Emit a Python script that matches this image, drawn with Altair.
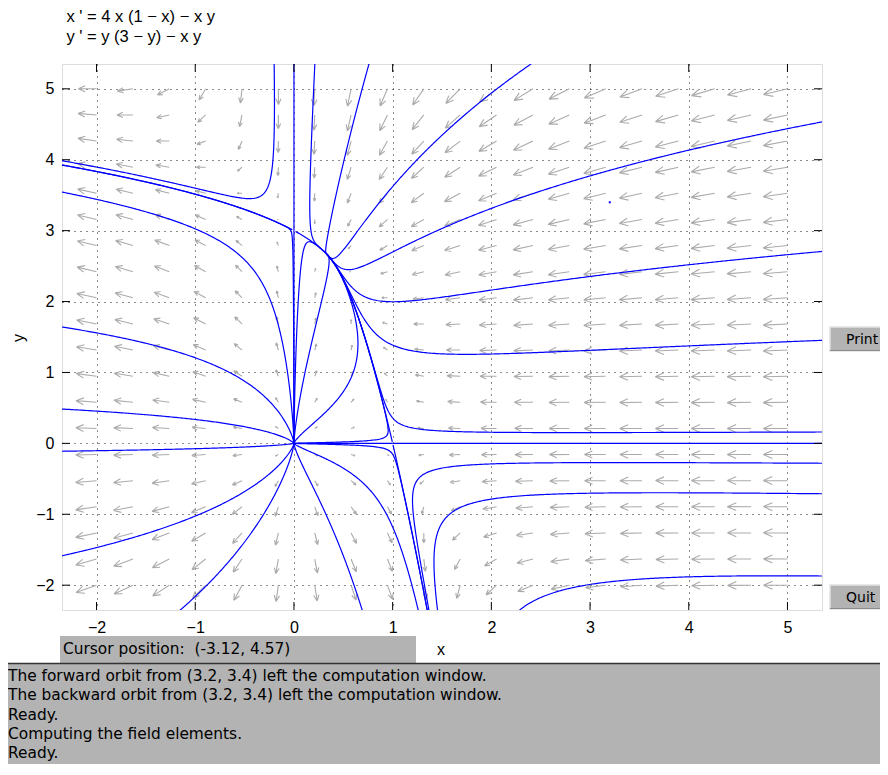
import math
import altair as alt
import pandas as pd

alt.data_transformers.disable_max_rows()

# ------------------------------------------------------------------ content
EQUATION_LINES = ["x ' = 4 x (1 − x) − x y", "y ' = y (3 − y) − x y"]
# x' = A x (B - x) - x y ,  y' = y (C - y) - x y
A_COEF, B_COEF, C_COEF = 4.0, 1.0, 3.0
EQUILIBRIA = [(0.0, 0.0), (1.0, 0.0), (0.0, 3.0), (1.0 / 3.0, 8.0 / 3.0)]

X_DOMAIN = [-2.35, 5.35]
Y_DOMAIN = [-2.35, 5.35]
X_TICKS = [-2, -1, 0, 1, 2, 3, 4, 5]
Y_TICKS = [-2, -1, 0, 1, 2, 3, 4, 5]

# direction field: 20 x 20 points over the window [-2, 5] x [-2, 5]
FIELD_MIN, FIELD_MAX, FIELD_N = -2.0, 5.0, 20

# initial points of the solution curves, both directions
SEEDS_BOTH = [
    (-2.30, 3.53), (-2.30, 1.63), (-2.30, 0.48), (-2.30, -0.11), (-2.30, -1.57),
    (-0.20, 5.30), (0.21, 5.30), (0.75, 5.30), (2.35, 5.30),
    (5.30, 4.52), (5.30, 2.70), (5.30, 1.45), (5.30, 0.16),
    (5.30, -0.28), (5.30, -0.71), (5.30, -1.87),
    (-1.11, -2.30), (0.68, -2.30), (1.25, -2.30),
    (-0.002, 1.18), (0.012, 0.90), (0.14, 1.18), (0.64, 1.60),
    (0.50, 0.02), (0.50, -0.02),
    (0.0, 5.30), (0.0, 1.50), (3.0, 0.0), (0.5, 0.0),
]
# separatrices leaving the saddles, forward only
SEEDS_FORWARD = [
    (0.016, 2.988), (-0.016, 3.012),
    (0.9967, 0.0197), (1.0033, -0.0197),
]
MARKED_POINT = [(3.2, 3.4)]

CURSOR_TEXT = "Cursor position:\u00a0 (-3.12, 4.57)"
MESSAGES = [
    "The forward orbit from (3.2, 3.4) left the computation window.",
    "The backward orbit from (3.2, 3.4) left the computation window.",
    "Ready.",
    "Computing the field elements.",
    "Ready.",
]
BUTTONS = ["Print", "Quit"]

# ------------------------------------------------------------------ styling
W, H = 760, 546
BLUE = "#0000ff"
ARROW_GRAY = "#ababab"
PANEL_GRAY = "#b3b3b3"
PLOT_FONT = "Liberation Sans"
GUI_FONT = "DejaVu Sans"
ARROW_PATH = "M0,0L2,0M2,0L1.25,-0.33M2,0L1.25,0.33"
PX_X = W / (X_DOMAIN[1] - X_DOMAIN[0])
PX_Y = H / (Y_DOMAIN[1] - Y_DOMAIN[0])


def field(x, y):
    return (A_COEF * x * (B_COEF - x) - x * y, y * (C_COEF - y) - x * y)


def unit(x, y, sgn):
    u, v = field(x, y)
    n = math.hypot(u, v)
    if n < 1e-12:
        return 0.0, 0.0
    return sgn * u / n, sgn * v / n


LX0, LX1 = X_DOMAIN[0] - 0.05, X_DOMAIN[1] + 0.05
LY0, LY1 = Y_DOMAIN[0] - 0.05, Y_DOMAIN[1] + 0.05


def trace(x, y, sgn, ds=0.008, nmax=6000):
    pts = []
    for k in range(nmax):
        k1 = unit(x, y, sgn)
        k2 = unit(x + 0.5 * ds * k1[0], y + 0.5 * ds * k1[1], sgn)
        k3 = unit(x + 0.5 * ds * k2[0], y + 0.5 * ds * k2[1], sgn)
        k4 = unit(x + ds * k3[0], y + ds * k3[1], sgn)
        x += ds * (k1[0] + 2 * k2[0] + 2 * k3[0] + k4[0]) / 6
        y += ds * (k1[1] + 2 * k2[1] + 2 * k3[1] + k4[1]) / 6
        pts.append((x, y))
        if not (LX0 < x < LX1 and LY0 < y < LY1):
            break
        if k > 5:
            hit = None
            for ex, ey in EQUILIBRIA:
                if math.hypot(x - ex, y - ey) < 1.5 * ds:
                    hit = (ex, ey)
                    break
            if hit:
                pts.append(hit)
                break
    return pts


rows = []
cid = 0
for (sx, sy), both in [(s, True) for s in SEEDS_BOTH] + [(s, False) for s in SEEDS_FORWARD]:
    fwd = trace(sx, sy, 1.0)
    bwd = trace(sx, sy, -1.0) if both else []
    line = list(reversed(bwd)) + [(sx, sy)] + fwd
    keep = line[::2]
    if keep[-1] != line[-1]:
        keep.append(line[-1])
    for k, (px, py) in enumerate(keep):
        rows.append({"id": cid, "k": k, "x": px, "y": py})
    cid += 1
traj_df = pd.DataFrame(rows)

# direction field arrows (tail at grid point, length grows with speed)
arrows = []
for i in range(FIELD_N):
    gx = FIELD_MIN + (FIELD_MAX - FIELD_MIN) * i / (FIELD_N - 1)
    for j in range(FIELD_N):
        gy = FIELD_MIN + (FIELD_MAX - FIELD_MIN) * j / (FIELD_N - 1)
        u, v = field(gx, gy)
        m = math.hypot(u, v)
        if m < 1e-9:
            continue
        L = 26.0 * m / (m + 6.0)
        ang = math.degrees(math.atan2(-v * PX_Y, u * PX_X)) % 360
        arrows.append({"x": gx, "y": gy, "s": L * L, "a": ang})
arrow_df = pd.DataFrame(arrows)

XS = alt.Scale(domain=X_DOMAIN, nice=False, zero=False)
YS = alt.Scale(domain=Y_DOMAIN, nice=False, zero=False)

axis_common = dict(
    grid=True, gridColor="#000000", gridDash=[1, 5], gridWidth=1, gridOpacity=0.9,
    ticks=False, domain=False, labelFont=PLOT_FONT, labelFontSize=16,
    labelColor="black", title=None, format="d",
)
XAX = alt.Axis(values=X_TICKS, labelPadding=9, **axis_common)
YAX = alt.Axis(values=Y_TICKS, labelPadding=8, **axis_common)


def X(field_name):
    return alt.X(field_name, type="quantitative", scale=XS, axis=XAX)


def Y(field_name):
    return alt.Y(field_name, type="quantitative", scale=YS, axis=YAX)


arrow_layer = alt.Chart(arrow_df).mark_point(
    shape=ARROW_PATH, filled=False, color=ARROW_GRAY, strokeWidth=1.1, opacity=1
).encode(
    x=X("x"), y=Y("y"),
    size=alt.Size("s:Q", scale=None, legend=None),
    angle=alt.Angle("a:Q", scale=None),
)

traj_layer = alt.Chart(traj_df).mark_line(color=BLUE, strokeWidth=1.2, clip=True).encode(
    x=X("x"), y=Y("y"), detail="id:N", order="k:Q",
)

dot_layer = alt.Chart(pd.DataFrame(MARKED_POINT, columns=["x", "y"])).mark_square(
    color=BLUE, size=4, opacity=1
).encode(x=X("x"), y=Y("y"))

xt = pd.DataFrame({"v": X_TICKS})
yt = pd.DataFrame({"v": Y_TICKS})
TL = 8
tick_layers = [
    alt.Chart(xt).mark_rule(color="black", strokeWidth=1).encode(
        x=X("v"), y=alt.value(H), y2=alt.value(H - TL)),
    alt.Chart(xt).mark_rule(color="black", strokeWidth=1).encode(
        x=X("v"), y=alt.value(0), y2=alt.value(TL)),
    alt.Chart(yt).mark_rule(color="black", strokeWidth=1).encode(
        y=Y("v"), x=alt.value(0), x2=alt.value(TL)),
    alt.Chart(yt).mark_rule(color="black", strokeWidth=1).encode(
        y=Y("v"), x=alt.value(W), x2=alt.value(W - TL)),
]


def text_mark(txt, x, y, size, font, align="left", baseline="alphabetic", angle=0):
    kw = dict(align=align, baseline=baseline, fontSize=size, font=font, color="black")
    if angle:
        kw["angle"] = angle
    return alt.Chart(pd.DataFrame({"t": [txt]})).mark_text(**kw).encode(
        x=alt.value(x), y=alt.value(y), text="t:N")


def rect_mark(x, x2, y, y2, fill, stroke=None, sw=0):
    kw = dict(fill=fill)
    if stroke:
        kw.update(stroke=stroke, strokeWidth=sw)
    return alt.Chart(pd.DataFrame({"a": [0]})).mark_rect(**kw).encode(
        x=alt.value(x), x2=alt.value(x2), y=alt.value(y), y2=alt.value(y2))


def hrule(x, x2, y, color, sw):
    return alt.Chart(pd.DataFrame({"a": [0]})).mark_rule(color=color, strokeWidth=sw).encode(
        x=alt.value(x), x2=alt.value(x2), y=alt.value(y))


RIGHT = W + 58  # right edge of the drawing, in plot coordinates

extras = []
extras.append(text_mark(EQUATION_LINES[0], 4.5, -42, 16.5, PLOT_FONT))
extras.append(text_mark(EQUATION_LINES[1], 4.5, -22, 16.5, PLOT_FONT))
extras.append(text_mark("x", 379, 591, 16, PLOT_FONT, align="center"))
extras.append(text_mark("y", -43, 274, 16, PLOT_FONT, align="center", baseline="middle", angle=270))

# cursor box
extras.append(rect_mark(-2, 354, 572, 599, PANEL_GRAY))
extras.append(text_mark(CURSOR_TEXT, 1, 590, 15.4, GUI_FONT))

# message pane
extras.append(rect_mark(-54, RIGHT, 599, 700, PANEL_GRAY))
extras.append(hrule(-54, RIGHT, 599.5, "#333333", 1.5))
for i, msg in enumerate(MESSAGES):
    extras.append(text_mark(msg, -54, 617 + 19.25 * i, 15.4, GUI_FONT))

# buttons
for label, top in zip(BUTTONS, [263, 521]):
    extras.append(rect_mark(768, RIGHT + 2, top, top + 24, PANEL_GRAY, "#e2e2e2", 1.5))
    extras.append(hrule(768, RIGHT, top + 23.5, "#8a8a8a", 1))
    extras.append(text_mark(label, 784, top + 17, 14, GUI_FONT))

chart = alt.layer(
    arrow_layer, traj_layer, dot_layer, *tick_layers, *extras
).properties(
    width=W, height=H,
    padding={"left": 54, "top": 56, "right": 58, "bottom": 154},
    autosize=alt.AutoSizeParams(type="none"),
).configure_view(stroke="black", strokeWidth=1).configure(background="white")

chart.save("out.html", embed_options={"renderer": "svg", "actions": False})
